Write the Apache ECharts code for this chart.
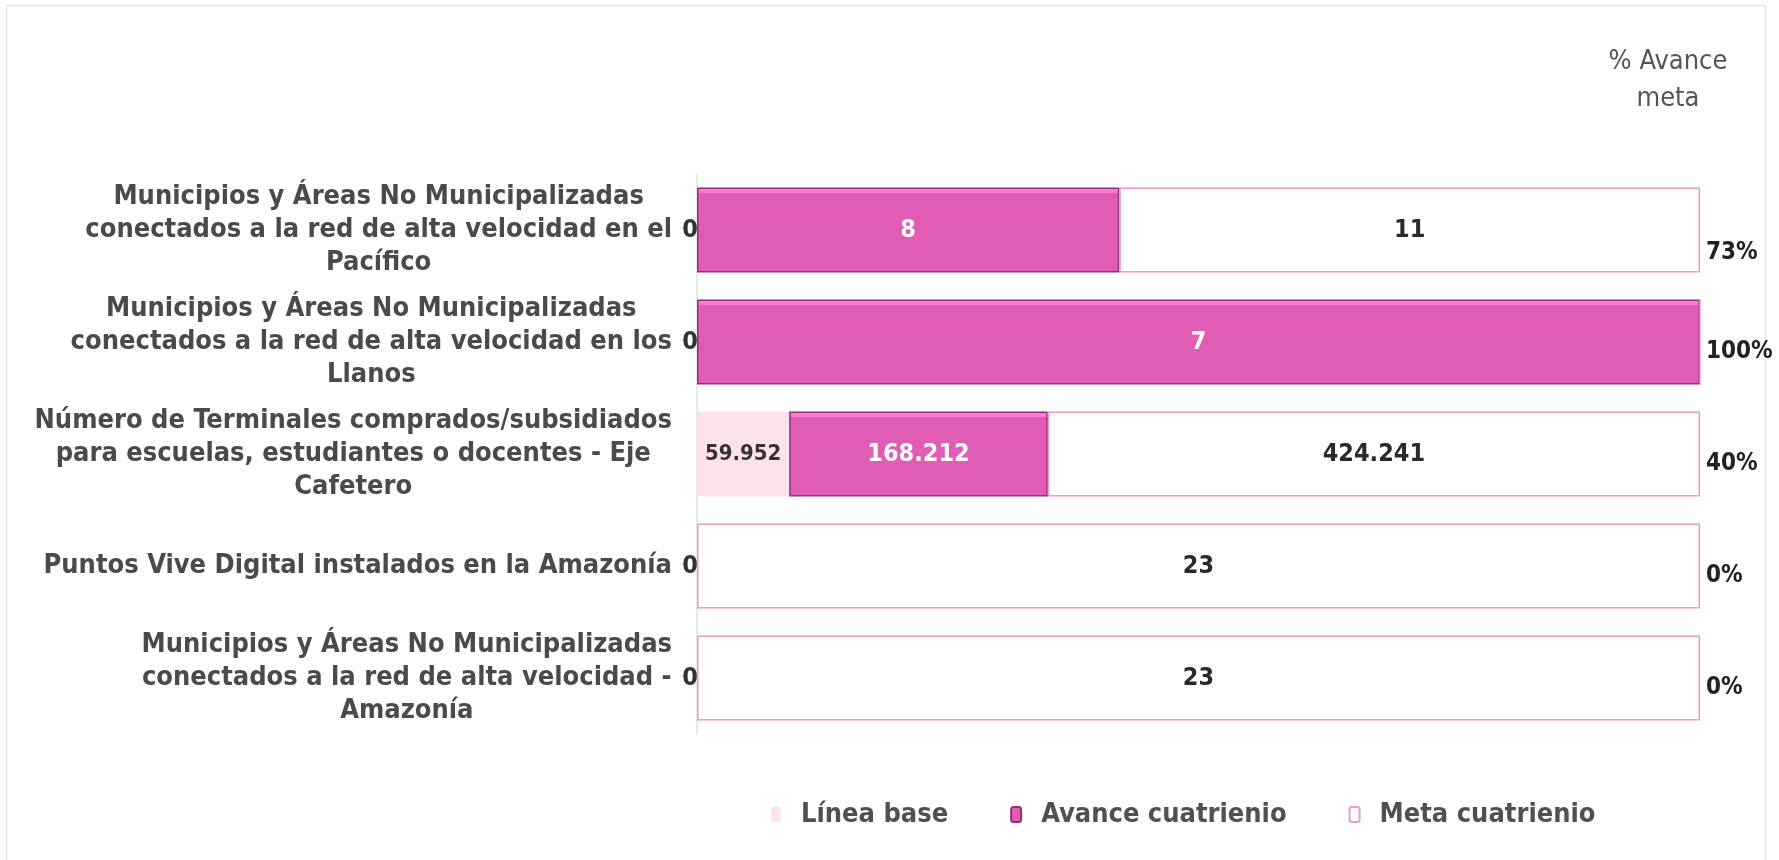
<!DOCTYPE html>
<html>
<head>
<meta charset="utf-8">
<script src="https://cdn.jsdelivr.net/npm/echarts@6/dist/echarts.min.js"></script>
<style>
  html, body { margin: 0; padding: 0; background: #fff; }
  #grafico { width: 1779px; height: 860px; }
</style>
</head>
<body>
<div id="grafico"></div>
<script>
var fuente = "'Liberation Sans Narrow', 'Arial Narrow', 'DejaVu Sans Condensed', sans-serif";

var indicadores = [
    'Municipios y Áreas No Municipalizadas\nconectados a la red de alta velocidad en el\nPacífico',
    'Municipios y Áreas No Municipalizadas\nconectados a la red de alta velocidad en los\nLlanos',
    'Número de Terminales comprados/subsidiados\npara escuelas, estudiantes o docentes - Eje\nCafetero',
    'Puntos Vive Digital instalados en la Amazonía',
    'Municipios y Áreas No Municipalizadas\nconectados a la red de alta velocidad -\nAmazonía'
];
var linea_base = [0, 0, 59952, 0, 0];
var avance = [8, 7, 168212, 0, 0];
var meta = [11, 0, 424241, 23, 23];
var avance_meta = ['73%', '100%', '40%', '0%', '0%'];

function formato_miles(v) {
    return String(v).replace(/\B(?=(\d{3})+(?!\d))/g, '.');
}

// cada barra se dibuja al 100% (suma de los tres tramos)
var totales = [];
for (var i = 0; i < indicadores.length; i++) {
    totales.push(linea_base[i] + avance[i] + meta[i]);
}

function tramo(valores, i) {
    return totales[i] ? valores[i] / totales[i] : 0;
}

var data_base = [], data_avance = [], data_meta = [];
for (var i = 0; i < indicadores.length; i++) {
    data_base.push({
        value: tramo(linea_base, i), raw: linea_base[i],
        label: linea_base[i] == 0
            ? { position: 'left', distance: -1, fontSize: 25 }
            : { position: 'inside', fontSize: 22 }
    });
    var obj = { value: tramo(avance, i), raw: avance[i] };
    if (avance[i] == 0) obj.itemStyle = { borderWidth: 0 };
    data_avance.push(obj);
    data_meta.push({ value: tramo(meta, i), raw: meta[i] });
}

function etiqueta(params) {
    return formato_miles(params.data.raw);
}
function etiqueta_sin_cero(params) {
    return params.data.raw ? formato_miles(params.data.raw) : '';
}

var myChart = echarts.init(document.getElementById('grafico'));

var color_avance = new echarts.graphic.LinearGradient(0, 0, 0, 1, [
    { offset: 0, color: '#f87fd4' },
    { offset: 0.06, color: '#f87fd4' },
    { offset: 0.07, color: '#e15cb4' },
    { offset: 1, color: '#e15cb4' }
]);

var option = {
    animation: false,
    textStyle: { fontFamily: fuente },
    title: {
        text: '% Avance\nmeta',
        left: 1663,
        top: 38,
        textAlign: 'center',
        textStyle: { fontFamily: fuente, fontSize: 27, fontWeight: 'normal', color: '#555', lineHeight: 37 }
    },
    graphic: [{
        type: 'rect',
        shape: { x: 6.5, y: 5.5, width: 1759, height: 900 },
        style: { fill: 'none', stroke: '#e4e4e4', lineWidth: 1.5 },
        silent: true
    }],
    legend: {
        left: 766,
        top: 796,
        itemWidth: 10,
        itemHeight: 15,
        itemGap: 62,
        textStyle: { fontFamily: fuente, fontSize: 27, fontWeight: 'bold', color: '#505050', padding: [0, 0, 0, 15] },
        data: ['Línea base', 'Avance cuatrienio', 'Meta cuatrienio']
    },
    grid: { left: 697, right: 79, top: 174, height: 560, containLabel: false, outerBoundsMode: 'none' },
    xAxis: { type: 'value', min: 0, max: 1, show: false },
    yAxis: [
        {
            type: 'category',
            inverse: true,
            data: indicadores,
            axisLine: { show: true, lineStyle: { color: '#e2e2e2', width: 1.5 } },
            axisTick: { show: false },
            axisLabel: {
                margin: 25,
                formatter: function (v) {
                    return v.split('\n').map(function (l) { return '{c|' + l + '}'; }).join('\n');
                },
                rich: {
                    c: { align: 'center', fontFamily: fuente, fontSize: 27, fontWeight: 'bold', color: '#4a4a4a', lineHeight: 33 }
                }
            }
        },
        {
            type: 'category',
            inverse: true,
            position: 'right',
            data: avance_meta,
            axisLine: { show: false },
            axisTick: { show: false },
            axisLabel: {
                margin: 6,
                align: 'left',
                formatter: function (v, idx) {
                    return idx == 0 ? '{p0|' + v + '}' : '{p|' + v + '}';
                },
                rich: {
                    p0: { fontFamily: fuente, fontSize: 24, fontWeight: 'bold', color: '#222', padding: [46, 0, 0, 0] },
                    p: { fontFamily: fuente, fontSize: 24, fontWeight: 'bold', color: '#222', padding: [20, 0, 0, 0] }
                }
            }
        }
    ],
    series: [
        {
            name: 'Línea base',
            type: 'bar',
            stack: 'total',
            barCategoryGap: '24%',
            itemStyle: { color: '#fde2ee' },
            label: { show: true, color: '#333', fontWeight: 'bold', fontFamily: fuente, formatter: etiqueta },
            data: data_base
        },
        {
            name: 'Avance cuatrienio',
            type: 'bar',
            stack: 'total',
            itemStyle: { color: color_avance, borderColor: '#8e3270', borderWidth: 1.5 },
            label: { show: true, position: 'inside', color: '#fff', fontSize: 25, fontWeight: 'bold', fontFamily: fuente, formatter: etiqueta_sin_cero },
            data: data_avance
        },
        {
            name: 'Meta cuatrienio',
            type: 'bar',
            stack: 'total',
            itemStyle: { color: '#fff', borderColor: '#e89bd0', borderWidth: 1.5 },
            label: { show: true, position: 'inside', color: '#2a2a2a', fontSize: 25, fontWeight: 'bold', fontFamily: fuente, formatter: etiqueta_sin_cero },
            data: data_meta
        }
    ]
};

myChart.setOption(option, true);
</script>
</body>
</html>
